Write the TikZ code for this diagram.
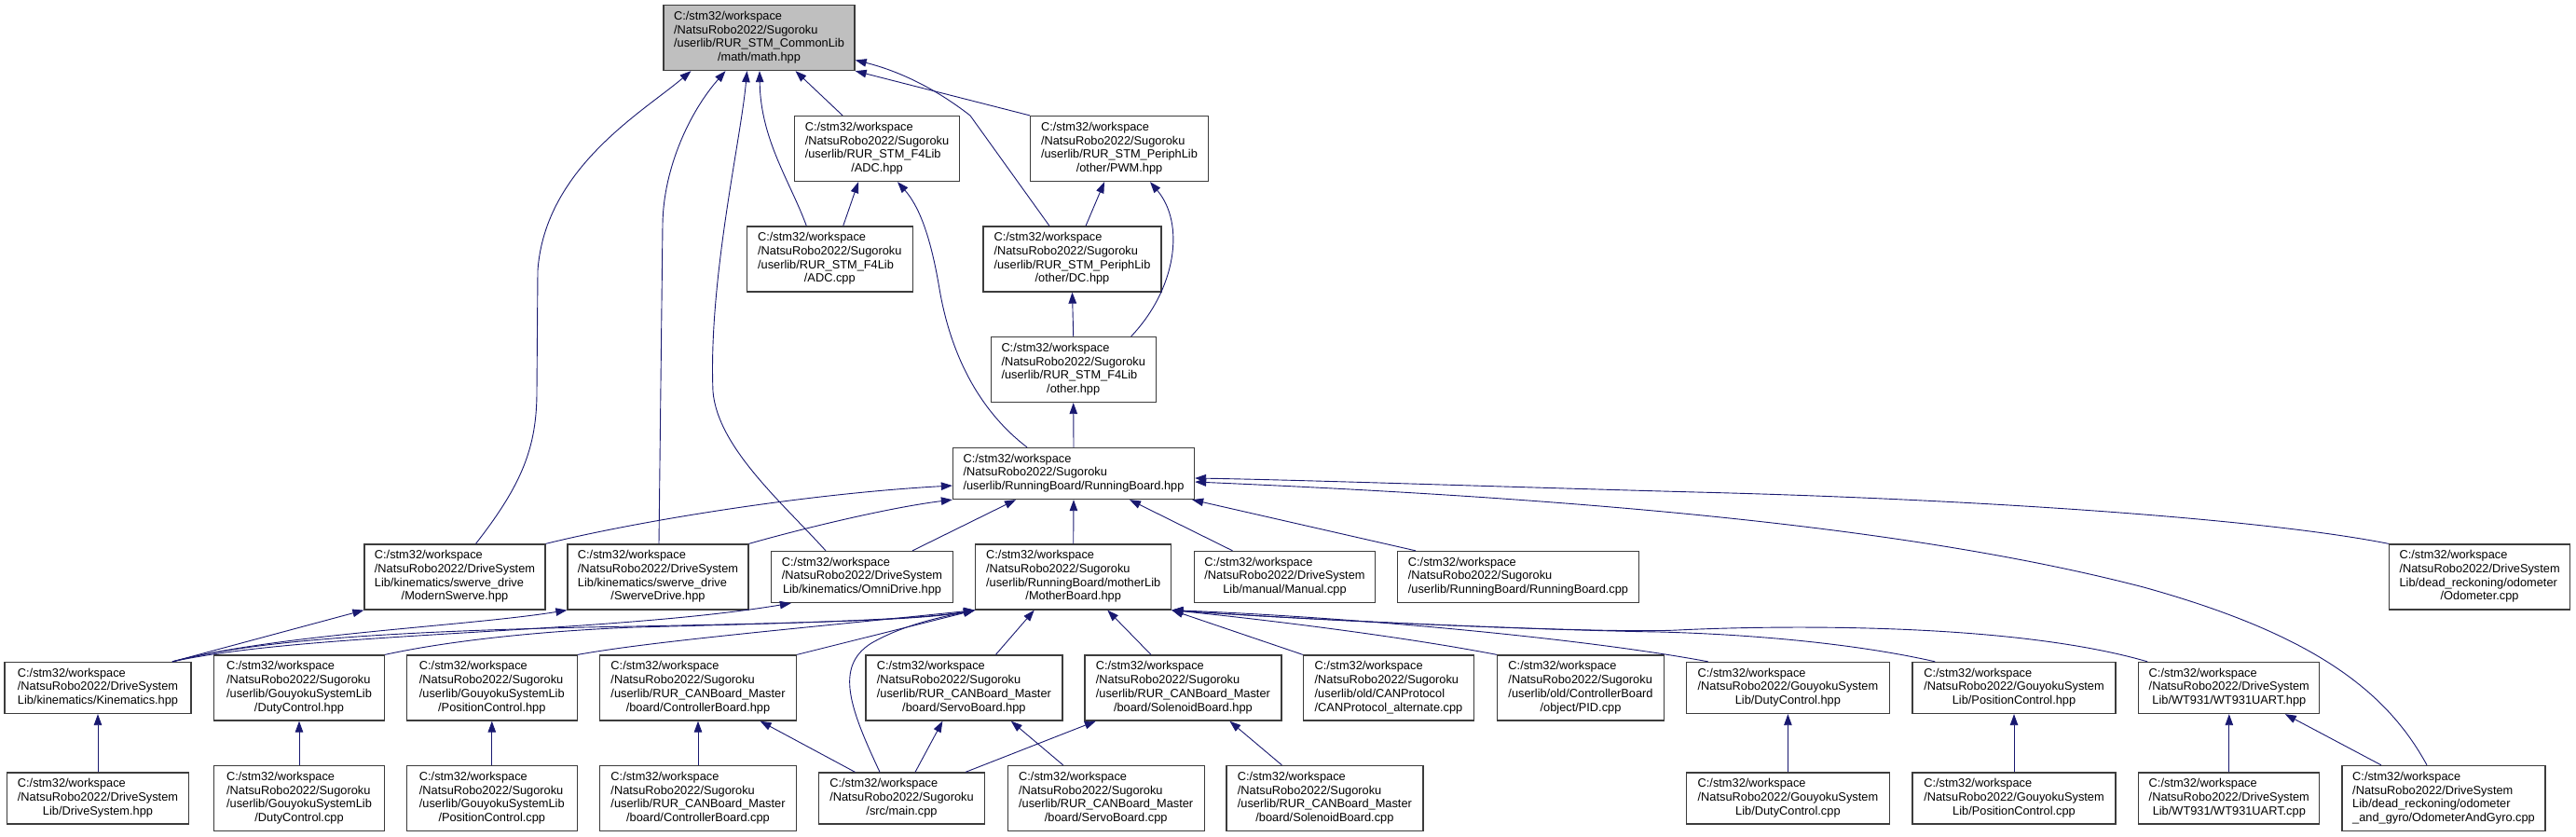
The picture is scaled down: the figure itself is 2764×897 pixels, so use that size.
\documentclass[tikz,border=0pt]{standalone}
\usepackage{fontspec}
\setmainfont{Liberation Sans}
\usepackage{tikz}
\usetikzlibrary{arrows.meta}
\definecolor{EdgeBlue}{RGB}{25, 25, 112}
\definecolor{RootGray}{RGB}{191, 191, 191}
\definecolor{BoxLine}{RGB}{60, 60, 60}
\newcommand{\flines}[2]{\begin{tabular}{@{}l@{}}#1\\\multicolumn{1}{@{}c@{}}{#2}\end{tabular}}
\newcommand{\ws}{C:/stm32/workspace}

\begin{document}
\begin{tikzpicture}[x=1pt, y=-1pt,
    filebox/.style={draw=BoxLine, line width=1.3pt, fill=white, inner sep=0pt,
        font=\fontsize{12.8}{14.7}\selectfont},
    box4/.style={filebox, minimum height=70pt},
    box3/.style={filebox, minimum height=55pt},
    incl/.style={EdgeBlue, line width=0.9pt, -{Triangle[length=12pt, width=8.5pt]}}]
    \useasboundingbox (0,0) rectangle (2764,897);
    % top part: math.hpp and the STM libs
    \node[box4, fill=RootGray, minimum width=205pt] (math) at (814.5,40.5)
        {\flines{\ws\\/NatsuRobo2022/Sugoroku\\/userlib/RUR\_STM\_CommonLib}{/math/math.hpp}};
    \node[box4, minimum width=177pt] (adchpp) at (941,159.5)
        {\flines{\ws\\/NatsuRobo2022/Sugoroku\\/userlib/RUR\_STM\_F4Lib}{/ADC.hpp}};
    \node[box4, minimum width=191pt] (pwm) at (1201,159.5)
        {\flines{\ws\\/NatsuRobo2022/Sugoroku\\/userlib/RUR\_STM\_PeriphLib}{/other/PWM.hpp}};
    \node[box4, minimum width=178pt] (adccpp) at (890.3,278)
        {\flines{\ws\\/NatsuRobo2022/Sugoroku\\/userlib/RUR\_STM\_F4Lib}{/ADC.cpp}};
    \node[box4, minimum width=191pt] (dc) at (1150.5,278)
        {\flines{\ws\\/NatsuRobo2022/Sugoroku\\/userlib/RUR\_STM\_PeriphLib}{/other/DC.hpp}};
    \node[box4, minimum width=177pt] (other) at (1151.7,396.5)
        {\flines{\ws\\/NatsuRobo2022/Sugoroku\\/userlib/RUR\_STM\_F4Lib}{/other.hpp}};
    \node[box3, minimum width=259pt] (rb) at (1152,508)
        {\flines{\ws\\/NatsuRobo2022/Sugoroku}{/userlib/RunningBoard/RunningBoard.hpp}};
    % row under RunningBoard.hpp
    \node[box4, minimum width=194pt] (modern) at (488,619)
        {\flines{\ws\\/NatsuRobo2022/DriveSystem\\Lib/kinematics/swerve\_drive}{/ModernSwerve.hpp}};
    \node[box4, minimum width=194pt] (swerve) at (706,619)
        {\flines{\ws\\/NatsuRobo2022/DriveSystem\\Lib/kinematics/swerve\_drive}{/SwerveDrive.hpp}};
    \node[box3, minimum width=195pt] (omni) at (925,619)
        {\flines{\ws\\/NatsuRobo2022/DriveSystem}{Lib/kinematics/OmniDrive.hpp}};
    \node[box4, minimum width=210pt] (mother) at (1151.7,619)
        {\flines{\ws\\/NatsuRobo2022/Sugoroku\\/userlib/RunningBoard/motherLib}{/MotherBoard.hpp}};
    \node[box3, minimum width=194pt] (manual) at (1378.5,619)
        {\flines{\ws\\/NatsuRobo2022/DriveSystem}{Lib/manual/Manual.cpp}};
    \node[box3, minimum width=259pt] (rbcpp) at (1629,619)
        {\flines{\ws\\/NatsuRobo2022/Sugoroku}{/userlib/RunningBoard/RunningBoard.cpp}};
    \node[box4, minimum width=194pt] (odo) at (2660.6,619)
        {\flines{\ws\\/NatsuRobo2022/DriveSystem\\Lib/dead\_reckoning/odometer}{/Odometer.cpp}};
    % headers under MotherBoard.hpp
    \node[box3, minimum width=200pt] (kin) at (105,738)
        {\flines{\ws\\/NatsuRobo2022/DriveSystem}{Lib/kinematics/Kinematics.hpp}};
    \node[box4, minimum width=183pt] (dutyh) at (321,738)
        {\flines{\ws\\/NatsuRobo2022/Sugoroku\\/userlib/GouyokuSystemLib}{/DutyControl.hpp}};
    \node[box4, minimum width=183pt] (posh) at (527.8,738)
        {\flines{\ws\\/NatsuRobo2022/Sugoroku\\/userlib/GouyokuSystemLib}{/PositionControl.hpp}};
    \node[box4, minimum width=211pt] (ctrlh) at (749,738)
        {\flines{\ws\\/NatsuRobo2022/Sugoroku\\/userlib/RUR\_CANBoard\_Master}{/board/ControllerBoard.hpp}};
    \node[box4, minimum width=211pt] (servoh) at (1034.4,738)
        {\flines{\ws\\/NatsuRobo2022/Sugoroku\\/userlib/RUR\_CANBoard\_Master}{/board/ServoBoard.hpp}};
    \node[box4, minimum width=211pt] (solh) at (1269.4,738)
        {\flines{\ws\\/NatsuRobo2022/Sugoroku\\/userlib/RUR\_CANBoard\_Master}{/board/SolenoidBoard.hpp}};
    \node[box4, minimum width=183pt] (canp) at (1490,738)
        {\flines{\ws\\/NatsuRobo2022/Sugoroku\\/userlib/old/CANProtocol}{/CANProtocol\_alternate.cpp}};
    \node[box4, minimum width=179pt] (pid) at (1696,738)
        {\flines{\ws\\/NatsuRobo2022/Sugoroku\\/userlib/old/ControllerBoard}{/object/PID.cpp}};
    \node[box3, minimum width=218pt] (gdutyh) at (1918.4,738)
        {\flines{\ws\\/NatsuRobo2022/GouyokuSystem}{Lib/DutyControl.hpp}};
    \node[box3, minimum width=218pt] (gposh) at (2161,738)
        {\flines{\ws\\/NatsuRobo2022/GouyokuSystem}{Lib/PositionControl.hpp}};
    \node[box3, minimum width=194pt] (wth) at (2391.8,738)
        {\flines{\ws\\/NatsuRobo2022/DriveSystem}{Lib/WT931/WT931UART.hpp}};
    % bottom row
    \node[box3, minimum width=195pt] (drv) at (105,856.5)
        {\flines{\ws\\/NatsuRobo2022/DriveSystem}{Lib/DriveSystem.hpp}};
    \node[box4, minimum width=183pt] (dutyc) at (321,856.5)
        {\flines{\ws\\/NatsuRobo2022/Sugoroku\\/userlib/GouyokuSystemLib}{/DutyControl.cpp}};
    \node[box4, minimum width=183pt] (posc) at (527.8,856.5)
        {\flines{\ws\\/NatsuRobo2022/Sugoroku\\/userlib/GouyokuSystemLib}{/PositionControl.cpp}};
    \node[box4, minimum width=211pt] (ctrlc) at (749,856.5)
        {\flines{\ws\\/NatsuRobo2022/Sugoroku\\/userlib/RUR\_CANBoard\_Master}{/board/ControllerBoard.cpp}};
    \node[box3, minimum width=178pt] (main) at (967.5,856.5)
        {\flines{\ws\\/NatsuRobo2022/Sugoroku}{/src/main.cpp}};
    \node[box4, minimum width=211pt] (servoc) at (1186.7,856.5)
        {\flines{\ws\\/NatsuRobo2022/Sugoroku\\/userlib/RUR\_CANBoard\_Master}{/board/ServoBoard.cpp}};
    \node[box4, minimum width=211pt] (solc) at (1421.4,856.5)
        {\flines{\ws\\/NatsuRobo2022/Sugoroku\\/userlib/RUR\_CANBoard\_Master}{/board/SolenoidBoard.cpp}};
    \node[box3, minimum width=218pt] (gdutyc) at (1918.4,856.5)
        {\flines{\ws\\/NatsuRobo2022/GouyokuSystem}{Lib/DutyControl.cpp}};
    \node[box3, minimum width=218pt] (gposc) at (2161,856.5)
        {\flines{\ws\\/NatsuRobo2022/GouyokuSystem}{Lib/PositionControl.cpp}};
    \node[box3, minimum width=194pt] (wtc) at (2391.8,856.5)
        {\flines{\ws\\/NatsuRobo2022/DriveSystem}{Lib/WT931/WT931UART.cpp}};
    \node[box4, minimum width=218pt] (oag) at (2622,856.5)
        {\flines{\ws\\/NatsuRobo2022/DriveSystem\\Lib/dead\_reckoning/odometer}{\_and\_gyro/OdometerAndGyro.cpp}};

    % edges into math.hpp
    \draw[incl] ([xshift=-37pt]adchpp.north) -- ([xshift=39pt]math.south);
    \draw[incl] ([xshift=-25pt]adccpp.north) .. controls (848,195) and (816,150) .. ([xshift=0.5pt]math.south);
    \draw[incl] ([xshift=22.5pt]modern.north) .. controls (560,520) and (576,480) .. (576,420)
        -- (577,290) .. controls (585,180) and (690,120) .. ([xshift=-73pt]math.south);
    \draw[incl] ([xshift=1pt]swerve.north) -- (711,240) .. controls (712,180) and (740,120) .. ([xshift=-36pt]math.south);
    \draw[incl] ([xshift=-39pt]omni.north) .. controls (840,540) and (770,480) .. (765,420)
        .. controls (760,300) and (795,150) .. ([xshift=-13pt]math.south);
    \draw[incl] ([xshift=-24.5pt]dc.north) -- (1041,124) .. controls (1000,92) and (960,75) .. ([yshift=-24pt]math.east);
    \draw[incl] (pwm.north west) -- (math.south east);
    % STM libs
    \draw[incl] ([xshift=14.4pt]adccpp.north) -- ([xshift=-20pt]adchpp.south);
    \draw[incl] ([xshift=-50pt]rb.north) .. controls (1050,440) and (1020,380) .. (1008,310)
        .. controls (998,250) and (985,220) .. ([xshift=22pt]adchpp.south);
    \draw[incl] ([xshift=14.5pt]dc.north) -- ([xshift=-16pt]pwm.south);
    \draw[incl] ([xshift=62pt]other.north) .. controls (1262,310) and (1272,240) .. ([xshift=33pt]pwm.south);
    \draw[incl] (other.north) -- (dc.south);
    \draw[incl] (rb.north) -- (other.south);
    % edges into RunningBoard.hpp
    \draw[incl] (modern.north east) .. controls (680,560) and (860,530) .. ([yshift=-13pt]rb.west);
    \draw[incl] (swerve.north east) .. controls (850,570) and (950,545) .. (rb.south west);
    \draw[incl] ([xshift=54pt]omni.north) -- ([xshift=-62pt]rb.south);
    \draw[incl] (mother.north) -- (rb.south);
    \draw[incl] ([xshift=-56pt]manual.north) -- ([xshift=60pt]rb.south);
    \draw[incl] ([xshift=-110pt]rbcpp.north) -- ([xshift=-3pt]rb.south east);
    \draw[incl] (odo.north west) .. controls (2420,555) and (2100,535) .. (1820,528)
        .. controls (1600,522) and (1400,515) .. ([yshift=-5pt]rb.east);
    \draw[incl] ([xshift=-18pt]oag.north) .. controls (2560,740) and (2480,680) .. (2300,630)
        .. controls (2050,565) and (1700,535) .. ([yshift=-9pt]rb.east);
    % Kinematics.hpp
    \draw[incl] ([xshift=80pt]kin.north) -- (modern.south west);
    \draw[incl] ([xshift=80pt]kin.north) .. controls (300,680) and (500,672) .. (swerve.south west);
    \draw[incl] ([xshift=80pt]kin.north) .. controls (330,678) and (650,680) .. ([xshift=22pt]omni.south west);
    \draw[incl] ([xshift=80pt]kin.north) .. controls (280,685) and (450,676) .. (680,672)
        .. controls (880,668) and (990,665) .. (mother.south west);
    % edges into MotherBoard.hpp
    \draw[incl] (dutyh.north east) .. controls (470,690) and (560,678) .. (680,673)
        .. controls (880,668) and (990,664) .. (mother.south west);
    \draw[incl] (posh.north east) .. controls (700,688) and (850,675) .. (mother.south west);
    \draw[incl] (ctrlh.north east) -- (mother.south west);
    \draw[incl] ([xshift=-23.5pt]main.north) .. controls (912,760) and (895,715) .. (935,690)
        .. controls (970,670) and (1010,662) .. (mother.south west);
    \draw[incl] ([xshift=34pt]servoh.north) -- ([xshift=-42pt]mother.south);
    \draw[incl] ([xshift=-34.4pt]solh.north) -- ([xshift=36.6pt]mother.south);
    \draw[incl] (canp.north west) -- (mother.south east);
    \draw[incl] (pid.north west) .. controls (1500,682) and (1350,664) .. (mother.south east);
    \draw[incl] ([xshift=24pt]gdutyh.north west) .. controls (1700,685) and (1450,662) .. (mother.south east);
    \draw[incl] ([xshift=25pt]gposh.north west) .. controls (1980,688) and (1860,680) .. (1780,678)
        .. controls (1650,676) and (1400,665) .. (mother.south east);
    \draw[incl] ([xshift=10pt]wth.north west) .. controls (2150,665) and (1880,672) .. (1800,676)
        .. controls (1720,680) and (1400,665) .. (mother.south east);
    % bottom row edges
    \draw[incl] (drv.north) -- (kin.south);
    \draw[incl] (dutyc.north) -- (dutyh.south);
    \draw[incl] (posc.north) -- (posh.south);
    \draw[incl] (ctrlc.north) -- (ctrlh.south);
    \draw[incl] ([xshift=-50pt]main.north) -- ([xshift=66.6pt]ctrlh.south);
    \draw[incl] ([xshift=14.5pt]main.north) -- ([xshift=-23pt]servoh.south);
    \draw[incl] ([xshift=68.5pt]main.north) -- ([xshift=-93.6pt]solh.south);
    \draw[incl] ([xshift=-46pt]servoc.north) -- ([xshift=50.4pt]servoh.south);
    \draw[incl] ([xshift=-46pt]solc.north) -- ([xshift=50pt]solh.south);
    \draw[incl] (gdutyc.north) -- (gdutyh.south);
    \draw[incl] (gposc.north) -- (gposh.south);
    \draw[incl] (wtc.north) -- (wth.south);
    \draw[incl] ([xshift=-67pt]oag.north) -- ([xshift=60pt]wth.south);
\end{tikzpicture}
\end{document}
